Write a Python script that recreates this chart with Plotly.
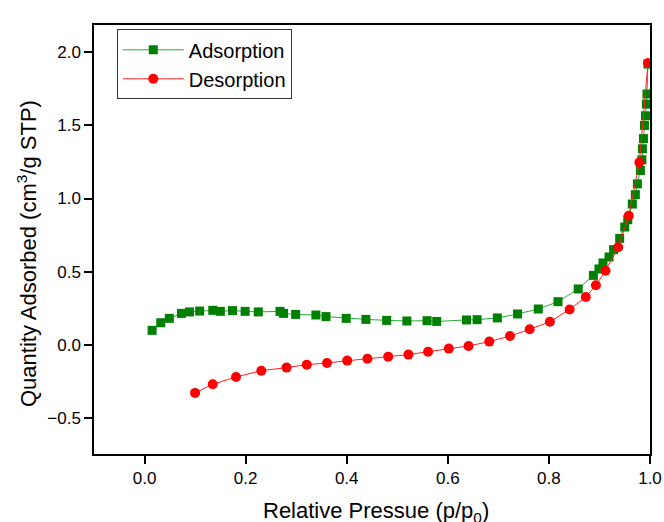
import plotly.graph_objects as go

ads_x = [0.015, 0.032, 0.049, 0.073, 0.089, 0.109, 0.135, 0.150, 0.174, 0.199,
         0.225, 0.268, 0.275, 0.299, 0.339, 0.359, 0.399, 0.438, 0.479, 0.519,
         0.559, 0.578, 0.637, 0.658, 0.698, 0.738, 0.779, 0.818, 0.858, 0.888,
         0.899, 0.907, 0.919, 0.928, 0.940, 0.950, 0.956, 0.965, 0.971, 0.975,
         0.981, 0.984, 0.985, 0.987, 0.989, 0.991, 0.993, 0.994, 0.996]
ads_y = [0.098, 0.150, 0.180, 0.214, 0.224, 0.230, 0.235, 0.228, 0.233, 0.228,
         0.224, 0.228, 0.214, 0.207, 0.203, 0.192, 0.180, 0.173, 0.166, 0.162,
         0.164, 0.159, 0.169, 0.171, 0.183, 0.210, 0.244, 0.294, 0.381, 0.474,
         0.518, 0.559, 0.600, 0.650, 0.727, 0.805, 0.855, 0.962, 1.026, 1.100,
         1.192, 1.265, 1.340, 1.410, 1.500, 1.566, 1.646, 1.715, 1.920]

des_x = [0.100, 0.135, 0.181, 0.231, 0.281, 0.321, 0.361, 0.401, 0.441, 0.482,
         0.522, 0.561, 0.602, 0.641, 0.682, 0.723, 0.762, 0.802, 0.841, 0.873,
         0.893, 0.912, 0.937, 0.958, 0.979, 0.996]
des_y = [-0.330, -0.271, -0.221, -0.178, -0.157, -0.137, -0.125, -0.109, -0.096, -0.082,
         -0.068, -0.048, -0.027, -0.009, 0.021, 0.059, 0.105, 0.157, 0.241, 0.326,
         0.406, 0.506, 0.666, 0.882, 1.247, 1.927]

x_ticks = [0.0, 0.2, 0.4, 0.6, 0.8, 1.0]
y_ticks = [-0.5, 0.0, 0.5, 1.0, 1.5, 2.0]

x_title = "Relative Pressue (p/p<sub>0</sub>)"
y_title = "Quantity Adsorbed (cm<sup>3</sup>/g STP)"

FONT = "Arial, 'Liberation Sans', sans-serif"

fig = go.Figure()
fig.add_trace(go.Scatter(
    x=ads_x, y=ads_y, mode="lines+markers", name="Adsorption",
    line=dict(color="rgb(40,170,60)", width=1),
    marker=dict(symbol="square", size=9, color="#008000", line=dict(width=0)),
))
fig.add_trace(go.Scatter(
    x=des_x, y=des_y, mode="lines+markers", name="Desorption",
    line=dict(color="#ff2020", width=1),
    marker=dict(symbol="circle", size=10, color="#ff0000", line=dict(width=0)),
))

fig.add_annotation(
    text=y_title, textangle=-90, xref="paper", yref="paper",
    x=(27 - 94) / 556, y=(454 - 254) / 429, xanchor="center", yanchor="middle",
    showarrow=False, font=dict(family=FONT, size=22, color="black"),
)
fig.add_annotation(
    text=x_title, xref="paper", yref="paper",
    x=(376 - 94) / 556, y=(454 - 512) / 429, xanchor="center", yanchor="middle",
    showarrow=False, font=dict(family=FONT, size=22, color="black"),
)

fig.update_layout(
    width=664, height=522,
    margin=dict(l=94, r=14, t=25, b=68),
    paper_bgcolor="white", plot_bgcolor="white",
    font=dict(family=FONT, color="black", size=17),
    showlegend=True,
    legend=dict(
        x=0.041, y=0.99, xanchor="left", yanchor="top",
        bgcolor="white", bordercolor="#333333", borderwidth=1,
        font=dict(family=FONT, size=20, color="black"),
        tracegroupgap=0, itemwidth=61,
    ),
    xaxis=dict(
        range=[-0.1, 1.0], tickvals=x_ticks, tickformat=".1f",
        showline=True, mirror=True, linecolor="black", linewidth=1.5,
        ticks="outside", ticklen=8, tickwidth=1.5, tickcolor="black",
        showgrid=False, zeroline=False, automargin=False,
        tickfont=dict(size=17),
    ),
    yaxis=dict(
        range=[-0.748, 2.187], tickvals=y_ticks, tickformat=".1f",
        showline=True, mirror=True, linecolor="black", linewidth=1.5,
        ticks="outside", ticklen=8, tickwidth=1.5, tickcolor="black",
        showgrid=False, zeroline=False, automargin=False,
        tickfont=dict(size=17),
    ),
)

fig.write_html("out.html")
